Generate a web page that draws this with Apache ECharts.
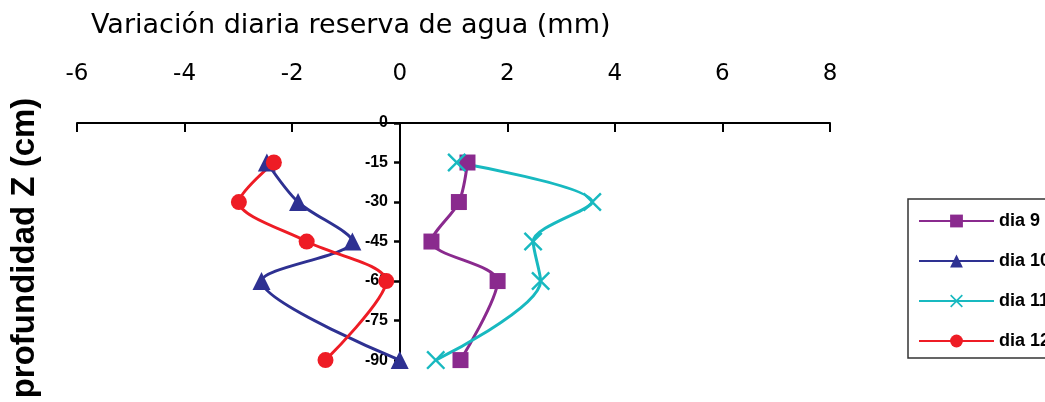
<!DOCTYPE html>
<html>
<head>
<meta charset="utf-8">
<script src="https://cdn.jsdelivr.net/npm/echarts@6/dist/echarts.min.js"></script>
<style>html,body{margin:0;padding:0;background:#fff}#c{width:1045px;height:402px}</style>
</head>
<body>
<div id="c"></div>
<script>
var depths = [-15, -30, -45, -60, -90];
var dia9 = [1.26, 1.10, 0.59, 1.82, 1.13];
var dia10 = [-2.47, -1.89, -0.88, -2.57, 0.0];
var dia11 = [1.06, 3.58, 2.48, 2.62, 0.67];
var dia12 = [-2.34, -2.99, -1.73, -0.25, -1.38];
var yTicks = [0, -15, -30, -45, -60, -75, -90];
var seriesNames = ['dia 9', 'dia 10', 'dia 11', 'dia 12'];
var colors = ['#8A2A8E', '#2E3192', '#18B9C0', '#EE1C25'];

function pairs(vals) { return vals.map(function (v, i) { return [v, depths[i]]; }); }
var crossPath = 'path://M0,0.9 L0.9,0 L5,4.1 L9.1,0 L10,0.9 L5.9,5 L10,9.1 L9.1,10 L5,5.9 L0.9,10 L0,9.1 L4.1,5 Z';
var symbols = ['rect', 'triangle', crossPath, 'circle'];
var sizes = [16, 18, 19, 16];
var all = [dia9, dia10, dia11, dia12];

var chart = echarts.init(document.getElementById('c'), null, {renderer: 'canvas'});
chart.setOption({
  animation: false,
  title: {
    text: 'Variación diaria reserva de agua (mm)',
    left: 86, top: 7,
    textStyle: {fontFamily: 'DejaVu Sans', fontSize: 27, fontWeight: 'normal', color: '#000'}
  },
  graphic: [{
    type: 'text', x: 25, y: 248, rotation: Math.PI / 2,
    style: {text: 'profundidad Z (cm)', font: 'bold 33px Liberation Sans', fill: '#000', align: 'center', verticalAlign: 'middle'}
  }],
  legend: {
    orient: 'vertical', left: 908, top: 199,
    padding: [13, 40, 8, 10],
    itemWidth: 75, itemHeight: 16, itemGap: 22,
    borderColor: '#333', borderWidth: 1.5,
    textStyle: {fontFamily: 'Liberation Sans', fontSize: 18, fontWeight: 'bold', color: '#000'},
    data: seriesNames
  },
  grid: {left: 77, right: 215, top: 123, bottom: 34},
  xAxis: {
    type: 'value', position: 'top', min: -6, max: 8, interval: 2,
    axisLine: {onZero: false, lineStyle: {color: '#000', width: 2}},
    axisTick: {inside: true, length: 9, lineStyle: {color: '#000', width: 2}},
    axisLabel: {margin: 37, fontFamily: 'DejaVu Sans', fontSize: 23, color: '#000'},
    splitLine: {show: false}
  },
  yAxis: {
    type: 'value', min: -93, max: 0, offset: -323,
    axisLine: {onZero: false, lineStyle: {color: '#000', width: 2}},
    axisTick: {show: true, length: 6, customValues: yTicks, lineStyle: {color: '#000', width: 2.5}},
    axisLabel: {customValues: yTicks, margin: 12, fontFamily: 'Liberation Sans', fontSize: 16, fontWeight: 'bold', color: '#000'},
    splitLine: {show: false}
  },
  series: all.map(function (vals, i) {
    return {
      name: seriesNames[i], type: 'line', data: pairs(vals),
      smooth: 0.3,
      symbol: symbols[i], symbolSize: sizes[i],
      itemStyle: {color: colors[i]},
      lineStyle: {color: colors[i], width: 3}
    };
  })
});
</script>
</body>
</html>
